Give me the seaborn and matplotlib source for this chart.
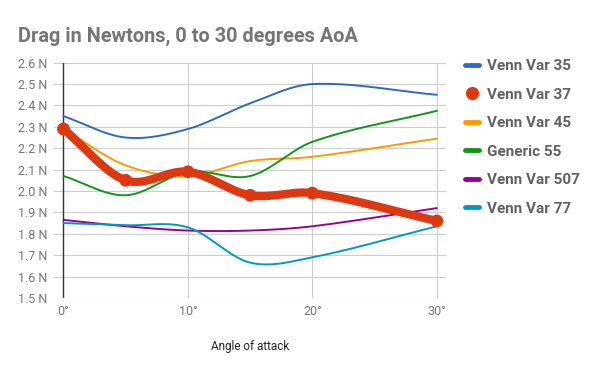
import numpy as np
import pandas as pd
import matplotlib
matplotlib.use("Agg")
import matplotlib.pyplot as plt
import seaborn as sns
from matplotlib.lines import Line2D

# data
angles = [0, 5, 10, 15, 20, 30]
series_names = ["Venn Var 35", "Venn Var 37", "Venn Var 45", "Generic 55", "Venn Var 507", "Venn Var 77"]
venn_35 = [2.35, 2.25, 2.29, 2.41, 2.50, 2.45]
venn_37 = [2.29, 2.05, 2.09, 1.98, 1.99, 1.86]
venn_45 = [2.29, 2.12, 2.07, 2.14, 2.16, 2.245]
generic_55 = [2.07, 1.98, 2.09, 2.07, 2.23, 2.375]
venn_507 = [1.865, 1.835, 1.815, 1.815, 1.835, 1.92]
venn_77 = [1.85, 1.84, 1.83, 1.665, 1.69, 1.835]
colors = ["#3366cc", "#dc3912", "#ff9900", "#109618", "#990099", "#0099c6"]
y_ticks = [1.5, 1.6, 1.7, 1.8, 1.9, 2.0, 2.1, 2.2, 2.3, 2.4, 2.5, 2.6]
x_ticks = [0, 10, 20, 30]


def smooth(x, y, n=40):
    # cubic hermite curve through the points, like the "smooth" option in sheets
    x = np.asarray(x, float)
    y = np.asarray(y, float)
    m = np.zeros_like(y)
    m[1:-1] = (y[2:] - y[:-2]) / (x[2:] - x[:-2])
    m[0] = (y[1] - y[0]) / (x[1] - x[0])
    m[-1] = (y[-1] - y[-2]) / (x[-1] - x[-2])
    xs, ys = [], []
    for i in range(len(x) - 1):
        h = x[i + 1] - x[i]
        t = np.linspace(0, 1, n, endpoint=False)
        h00 = 2 * t**3 - 3 * t**2 + 1
        h10 = t**3 - 2 * t**2 + t
        h01 = -2 * t**3 + 3 * t**2
        h11 = t**3 - t**2
        xs.append(x[i] + t * h)
        ys.append(h00 * y[i] + h10 * h * m[i] + h01 * y[i + 1] + h11 * h * m[i + 1])
    xs.append([x[-1]])
    ys.append([y[-1]])
    return np.concatenate(xs), np.concatenate(ys)


def main():
    sns.set_style("white")
    plt.rcParams["font.family"] = ["Roboto", "DejaVu Sans"]

    values = [venn_35, venn_37, venn_45, generic_55, venn_507, venn_77]
    frames = []
    for name, vals in zip(series_names, values):
        sx, sy = smooth(angles, vals)
        frames.append(pd.DataFrame({"angle": sx, "drag": sy, "series": name}))
    curves = pd.concat(frames, ignore_index=True)
    pts = pd.DataFrame({"angle": angles, "drag": venn_37})

    fig = plt.figure(figsize=(6, 3.71), dpi=100)
    ax = fig.add_axes([0.09, 0.197, 0.653, 0.634])

    palette = dict(zip(series_names, colors))
    widths = {n: 1.4 for n in series_names}
    widths["Venn Var 37"] = 6
    order = ["Venn Var 35", "Venn Var 45", "Generic 55", "Venn Var 507", "Venn Var 77", "Venn Var 37"]
    for name in order:
        sns.lineplot(data=curves[curves["series"] == name], x="angle", y="drag",
                     color=palette[name], lw=widths[name], ax=ax, legend=False,
                     solid_capstyle="round", zorder=3 if name == "Venn Var 37" else 2)
    sns.scatterplot(data=pts, x="angle", y="drag", color=colors[1], s=85,
                    edgecolor="none", ax=ax, zorder=4, legend=False)

    ax.set_xlim(-0.76, 30.72)
    ax.set_ylim(1.5, 2.6)
    ax.set_xticks(x_ticks)
    ax.set_xticklabels([f"{t}°" for t in x_ticks])
    ax.set_yticks(y_ticks)
    ax.set_yticklabels([f"{t:.1f} N" for t in y_ticks])
    ax.grid(True, color="#cccccc", lw=0.8)
    ax.axvline(0, color="#333333", lw=1, zorder=1.5)
    for s in ax.spines.values():
        s.set_visible(False)
    ax.tick_params(length=0, labelsize=9, labelcolor="#757575", pad=5)
    ax.set_xlabel("Angle of attack", fontsize=8.5, color="#222222", labelpad=16)
    ax.set_ylabel("")

    fig.text(0.03, 0.903, "Drag in Newtons, 0 to 30 degrees AoA", fontsize=14.3,
             fontweight="bold", color="#757575", va="center")

    handles = []
    for name, c in zip(series_names, colors):
        if name == "Venn Var 37":
            handles.append(Line2D([], [], color=c, marker="o", ls="none", markersize=8.5))
        else:
            handles.append(Line2D([], [], color=c, lw=3.5))
    leg = fig.legend(handles, series_names, loc="upper left", bbox_to_anchor=(0.752, 0.878),
                     frameon=False, handlelength=0.9, handletextpad=0.55, labelspacing=0.95,
                     prop={"size": 11, "weight": "bold"})
    for t in leg.get_texts():
        t.set_color("#616161")

    fig.savefig("out.png", dpi=100)


if __name__ == "__main__":
    main()
